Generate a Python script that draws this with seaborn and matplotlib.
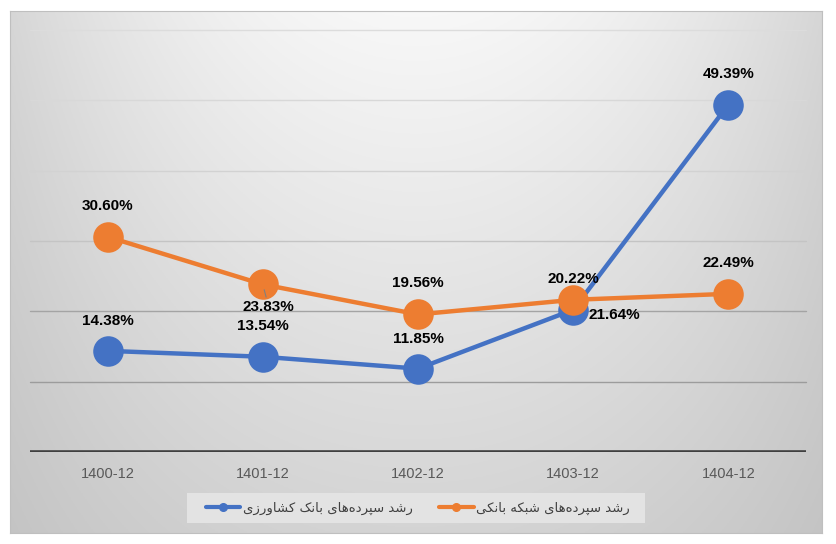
import numpy as np
import pandas as pd
import matplotlib
matplotlib.use("Agg")
import matplotlib.pyplot as plt
from matplotlib.lines import Line2D
from matplotlib.patches import Rectangle
import seaborn as sns

# داده‌ها
periods = ["1400-12", "1401-12", "1402-12", "1403-12", "1404-12"]
keshavarzi = [14.38, 13.54, 11.85, 20.22, 49.39]
shabake = [30.60, 23.83, 19.56, 21.64, 22.49]
series_names = ["رشد سپرده‌های بانک کشاورزی", "رشد سپرده‌های شبکه بانکی"]
colors = ["#4472C4", "#ED7D31"]
grid_levels = [10, 20, 30, 40, 50, 60]

# شکل‌دهی ساده حروف فارسی (matplotlib خودش اتصال حروف را انجام نمی‌دهد)
FORMS = {
    "ا": ("\uFE8D", "\uFE8E", None, None),
    "ب": ("\uFE8F", "\uFE90", "\uFE91", "\uFE92"),
    "پ": ("\uFB56", "\uFB57", "\uFB58", "\uFB59"),
    "د": ("\uFEA9", "\uFEAA", None, None),
    "ر": ("\uFEAD", "\uFEAE", None, None),
    "ز": ("\uFEAF", "\uFEB0", None, None),
    "س": ("\uFEB1", "\uFEB2", "\uFEB3", "\uFEB4"),
    "ش": ("\uFEB5", "\uFEB6", "\uFEB7", "\uFEB8"),
    "ن": ("\uFEE5", "\uFEE6", "\uFEE7", "\uFEE8"),
    "ه": ("\uFEE9", "\uFEEA", "\uFEEB", "\uFEEC"),
    "و": ("\uFEED", "\uFEEE", None, None),
    "ی": ("\uFEEF", "\uFEF0", "\uFEF3", "\uFEF4"),
    "ک": ("\uFB8E", "\uFB8F", "\uFB90", "\uFB91"),
}


def shape_fa(text):
    out = []
    for i, c in enumerate(text):
        if c not in FORMS:
            if c != "\u200c":
                out.append(c)
            continue
        prev = text[i - 1] if i > 0 else ""
        nxt = text[i + 1] if i + 1 < len(text) else ""
        join_prev = prev in FORMS and FORMS[prev][2] is not None
        join_next = FORMS[c][2] is not None and nxt in FORMS
        iso, fin, ini, med = FORMS[c]
        if join_prev and join_next:
            out.append(med)
        elif join_prev:
            out.append(fin)
        elif join_next:
            out.append(ini)
        else:
            out.append(iso)
    return "".join(out)[::-1]


df = pd.DataFrame({
    "period": periods * 2,
    "value": keshavarzi + shabake,
    "series": [series_names[0]] * 5 + [series_names[1]] * 5,
})

sns.set_style("white")
num_font = ["Liberation Sans", "DejaVu Sans"]

fig = plt.figure(figsize=(8.36, 5.44), dpi=100, facecolor="white")

# پس‌زمینه گرادیانی ناحیه نمودار
bg = fig.add_axes([10 / 836, 11 / 544, 812 / 836, 522 / 544])
u, v = np.meshgrid(np.linspace(0, 1, 400), np.linspace(0, 1, 260))
h = ((u - 0.5) / 0.5) ** 2
L = 0.97 - 0.13 * h - 0.14 * v + 0.07 * h * v
bg.imshow(np.dstack([L, L, L]), aspect="auto", extent=[0, 1, 1, 0])
bg.set_xticks([])
bg.set_yticks([])
for s in bg.spines.values():
    s.set_color("#bfbfbf")
    s.set_linewidth(0.8)

ax = fig.add_axes([30 / 836, 92 / 544, 776 / 836, 422 / 544])
ax.set_facecolor("none")

sns.lineplot(data=df, x="period", y="value", hue="series", hue_order=series_names,
             palette=colors, marker="o", markersize=22, markeredgewidth=0,
             linewidth=3.2, sort=False, legend=False, ax=ax)

ax.set_xlim(-0.5, 4.5)
ax.set_ylim(0, 60)
grid_colors = ["#9c9c9c", "#a4a4a4", "#c4c4c4", "#d2d2d2", "#d8d8d8", "#dcdcdc"]
for lev, gc in zip(grid_levels, grid_colors):
    ax.axhline(lev, color=gc, linewidth=1.0, zorder=0.5, clip_on=False)
ax.axhline(0, color="#404040", linewidth=2.6, zorder=5)
ax.tick_params(axis="y", left=False, labelleft=False)
ax.tick_params(axis="x", bottom=False, pad=7, labelsize=10.5, labelcolor="#595959")
for lbl in ax.get_xticklabels():
    lbl.set_fontfamily(num_font)
ax.set_xlabel("")
ax.set_ylabel("")
for s in ax.spines.values():
    s.set_visible(False)

# برچسب مقادیر (جابجایی‌ها بر حسب پیکسل)
blue_off = [(0, 30), (0, 31), (0, 30), (0, 31), (0, 31)]
orange_off = [(0, 31), (6, -23), (0, 31), (15, -15), (0, 31)]
for i, (val, off) in enumerate(zip(keshavarzi, blue_off)):
    ax.annotate(f"{val:.2f}%", (i, val), xytext=off, textcoords="offset pixels",
                ha="center", va="center", fontsize=11, fontweight="bold",
                family=num_font, color="black", zorder=6)
for i, (val, off) in enumerate(zip(shabake, orange_off)):
    ha = "left" if off[0] > 10 else "center"
    arrow = dict(arrowstyle="-", color="#808080", lw=0.8, shrinkA=0, shrinkB=4) if i == 1 else None
    ax.annotate(f"{val:.2f}%", (i, val), xytext=off, textcoords="offset pixels",
                ha=ha, va="center", fontsize=11, fontweight="bold",
                family=num_font, color="black", arrowprops=arrow, zorder=6)

# کادر راهنما
fig.patches.append(Rectangle((187 / 836, 1 - 523 / 544), 458 / 836, 30 / 544,
                             transform=fig.transFigure, facecolor="#e3e3e3",
                             edgecolor="none", zorder=1))
handles = [Line2D([0], [0], color=c, linewidth=3, marker="o", markersize=5.5)
           for c in colors]
leg = fig.legend(handles, [shape_fa(n) for n in series_names], loc="center",
                 bbox_to_anchor=(418 / 836, 1 - 508 / 544), ncol=2,
                 prop={"family": "DejaVu Sans", "size": 9.5},
                 handlelength=2.6, handletextpad=0.2, columnspacing=2.0,
                 frameon=False)
for t in leg.get_texts():
    t.set_color("#404040")

fig.savefig("out.png", dpi=100, facecolor="white")
